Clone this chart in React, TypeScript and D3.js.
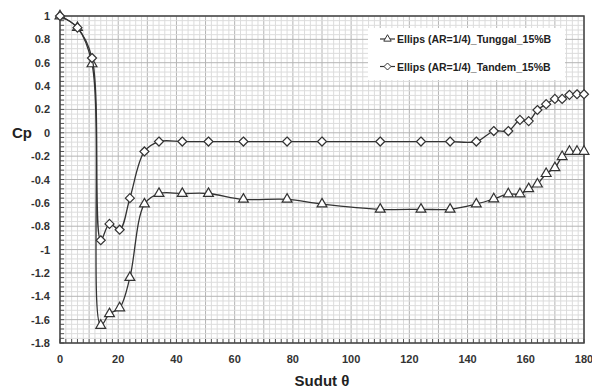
import { useEffect, useRef } from "react";
import * as d3 from "d3";

// sudut (derajat) dan Cp untuk tiap seri
const sudutTunggal = [0, 6, 11, 14, 17, 20.5, 24, 29, 34, 42, 51, 63, 78, 90, 110, 124, 134, 143, 149, 154, 158, 161, 164, 167, 170, 172.5, 175, 177.6, 180];
const cpTunggal = [1, 0.9, 0.59, -1.65, -1.55, -1.5, -1.24, -0.61, -0.52, -0.52, -0.52, -0.57, -0.57, -0.61, -0.655, -0.655, -0.655, -0.61, -0.567, -0.524, -0.524, -0.48, -0.44, -0.35, -0.3, -0.205, -0.16, -0.16, -0.16];

const sudutTandem = [0, 6, 11, 14, 17, 20.5, 24, 29, 34, 42, 51, 63, 78, 90, 110, 124, 134, 143, 149, 154, 158, 161, 164, 167, 170, 172.5, 175, 177.6, 180];
const cpTandem = [1, 0.9, 0.64, -0.92, -0.78, -0.83, -0.56, -0.16, -0.075, -0.075, -0.075, -0.075, -0.075, -0.075, -0.075, -0.075, -0.075, -0.075, 0.015, 0.015, 0.11, 0.1, 0.195, 0.245, 0.29, 0.29, 0.325, 0.33, 0.33];

const xTicks = [0, 20, 40, 60, 80, 100, 120, 140, 160, 180];
const yTicks = [1, 0.8, 0.6, 0.4, 0.2, 0, -0.2, -0.4, -0.6, -0.8, -1, -1.2, -1.4, -1.6, -1.8];

const legendLabels = ["Ellips (AR=1/4)_Tunggal_15%B", "Ellips (AR=1/4)_Tandem_15%B"];

const App = () => {
  const ref = useRef<SVGSVGElement | null>(null);

  useEffect(() => {
    if (!ref.current) return;
    const svg = d3.select(ref.current);
    svg.selectAll("*").remove();

    const left = 60, right = 584, top = 16, bottom = 343;
    const x = d3.scaleLinear().domain([0, 180]).range([left, right]);
    const y = d3.scaleLinear().domain([-1.8, 1]).range([bottom, top]);
    const font = "'Liberation Sans', Arial, sans-serif";

    svg.append("rect").attr("width", 592).attr("height", 390).attr("fill", "#fff");

    // grid minor & mayor
    const grid = svg.append("g");
    const xMinor = d3.range(0, 181, 2);
    const yMinor = d3.range(0, 71).map((i) => -1.8 + i * 0.04);
    grid.selectAll(".vx").data(xMinor).enter().append("line")
      .attr("x1", (d) => x(d)).attr("x2", (d) => x(d))
      .attr("y1", top).attr("y2", bottom)
      .attr("stroke", (d) => (d % 10 === 0 ? "#b4b4b4" : "#dcdcdc"))
      .attr("stroke-width", 1);
    grid.selectAll(".hy").data(yMinor).enter().append("line")
      .attr("x1", left).attr("x2", right)
      .attr("y1", (d) => y(d)).attr("y2", (d) => y(d))
      .attr("stroke", (d, i) => (i % 5 === 0 ? "#b4b4b4" : "#dcdcdc"))
      .attr("stroke-width", 1);

    // tanda kecil di sumbu
    const ticks = svg.append("g").attr("stroke", "#555").attr("stroke-width", 1);
    ticks.selectAll(".tx").data(xMinor).enter().append("line")
      .attr("x1", (d) => x(d)).attr("x2", (d) => x(d))
      .attr("y1", bottom).attr("y2", bottom - 4);
    ticks.selectAll(".ty").data(yMinor).enter().append("line")
      .attr("x1", left).attr("x2", left + 4)
      .attr("y1", (d) => y(d)).attr("y2", (d) => y(d));

    // bingkai
    svg.append("rect")
      .attr("x", left).attr("y", top)
      .attr("width", right - left).attr("height", bottom - top)
      .attr("fill", "none").attr("stroke", "#444").attr("stroke-width", 1.5);

    // label sumbu
    svg.append("g").selectAll("text").data(xTicks).enter().append("text")
      .attr("x", (d) => x(d)).attr("y", 363)
      .attr("text-anchor", "middle")
      .style("font-family", font).style("font-size", "11px").style("font-weight", "bold")
      .attr("fill", "#333")
      .text((d) => d);
    svg.append("g").selectAll("text").data(yTicks).enter().append("text")
      .attr("x", 50).attr("y", (d) => y(d) + 4)
      .attr("text-anchor", "end")
      .style("font-family", font).style("font-size", "11px").style("font-weight", "bold")
      .attr("fill", "#333")
      .text((d) => d3.format("~g")(d).replace("−", "-"));

    svg.append("text").attr("x", 322).attr("y", 386).attr("text-anchor", "middle")
      .style("font-family", font).style("font-size", "15px").style("font-weight", "bold")
      .attr("fill", "#222").text("Sudut θ");
    svg.append("text").attr("x", 22).attr("y", y(0) + 5).attr("text-anchor", "middle")
      .style("font-family", font).style("font-size", "15px").style("font-weight", "bold")
      .attr("fill", "#222").text("Cp");

    // seri
    const line = d3.line<[number, number]>()
      .x((d) => x(d[0])).y((d) => y(d[1]))
      .curve(d3.curveCatmullRom.alpha(0.5));
    const tri = d3.symbol().type(d3.symbolTriangle).size(42);
    const dia = (s: number) => `M0,${-s}L${s},0L0,${s}L${-s},0Z`;

    const series = [
      { xs: sudutTunggal, ys: cpTunggal, marker: tri() as string },
      { xs: sudutTandem, ys: cpTandem, marker: dia(4.5) },
    ];
    series.forEach((s) => {
      const pts = s.xs.map((v, i) => [v, s.ys[i]] as [number, number]);
      svg.append("path").attr("d", line(pts)).attr("fill", "none")
        .attr("stroke", "#333").attr("stroke-width", 1.3);
      svg.append("g").selectAll("path").data(pts).enter().append("path")
        .attr("d", s.marker)
        .attr("transform", (d) => `translate(${x(d[0])},${y(d[1])})`)
        .attr("fill", "#fff").attr("stroke", "#333").attr("stroke-width", 1.2);
    });

    // legenda
    const lg = svg.append("g");
    lg.append("rect").attr("x", 368).attr("y", 28).attr("width", 197).attr("height", 52)
      .attr("fill", "#fff");
    legendLabels.forEach((lab, i) => {
      const cy = 39 + i * 27.5;
      lg.append("line").attr("x1", 380).attr("x2", 395).attr("y1", cy).attr("y2", cy)
        .attr("stroke", "#333").attr("stroke-width", 1.2);
      lg.append("path").attr("d", i === 0 ? (d3.symbol().type(d3.symbolTriangle).size(24)() as string) : dia(3.5))
        .attr("transform", `translate(387.5,${cy})`)
        .attr("fill", "#fff").attr("stroke", "#333").attr("stroke-width", 1);
      lg.append("text").attr("x", 397).attr("y", cy + 4)
        .style("font-family", font).style("font-size", "10.5px").style("font-weight", "bold")
        .attr("fill", "#222").text(lab);
    });
  }, []);

  return <svg ref={ref} width={592} height={390} style={{ position: "absolute", left: 0, top: 0 }} />;
};

export default App;
